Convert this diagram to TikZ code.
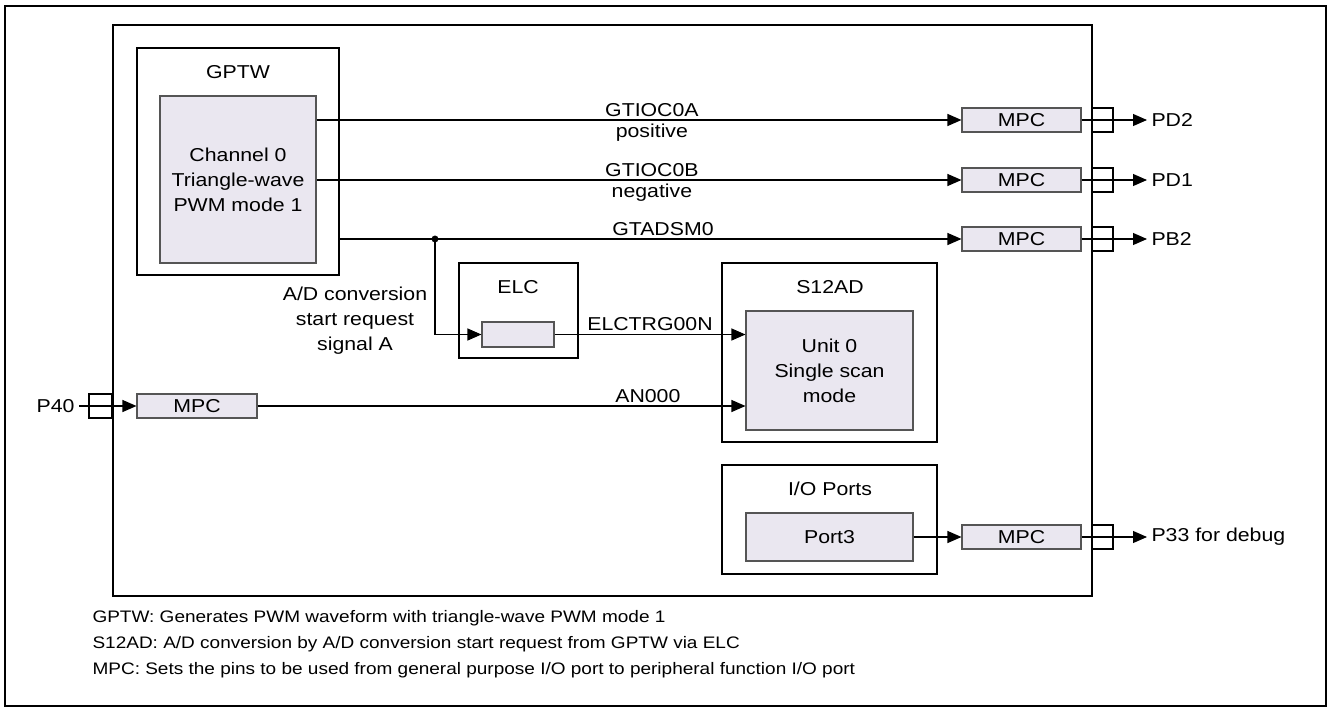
\documentclass[tikz,border=0pt]{standalone}
\usepackage{fontspec}
\setmainfont{Liberation Sans}[FakeStretch=1.14]
\usetikzlibrary{positioning, arrows.meta, fit}

\definecolor{blockfill}{RGB}{234,231,240}
\definecolor{edgegray}{RGB}{85,85,85}

\begin{document}
\begin{tikzpicture}[
    x=0.75pt, y=-0.75pt,    % 座標はピクセル単位
    line width=0.8pt,
    >={Triangle[length=10.5pt, width=9pt]},
    font=\fontsize{14}{18.75}\selectfont,
    % 外側のブロック枠
    blockbox/.style={draw, inner sep=0pt},
    % 内側の塗りつぶしブロック
    corebox/.style={draw=edgegray, fill=blockfill, inner sep=0pt},
    mpcbox/.style={draw=edgegray, fill=blockfill, inner sep=0pt, label=center:MPC},
    pinbox/.style={draw, inner sep=0pt},
    pinlabel/.style={anchor=west, inner sep=3pt},
    notetext/.style={anchor=west, inner sep=0pt, font=\fontsize{12.5}{15}\selectfont},
    sig/.style={->}
]

    % --- 1. 外枠とマイコン ---
    \useasboundingbox (0,0) rectangle (1328,707);
    \node[blockbox, line width=1.5pt, fit={(5,6) (1326,706)}] (frame) {};
    \node[blockbox, fit={(113,25) (1092,596)}] (chip) {};

    % --- 2. 各ブロック ---
    % GPTW
    \node[blockbox, fit={(137,48) (339,275)}] (gptw) {};
    \node (gptwname) at (238,72) {GPTW};
    \node[corebox, fit={(160,96) (316,263)},
          label={[align=center]center:Channel 0\\Triangle-wave\\PWM mode 1}] (ch0) {};

    % ELC
    \node[blockbox, fit={(459,263) (578,358)}] (elc) {};
    \node (elcname) at (518,287) {ELC};
    \node[corebox, fit={(482,322) (554,347)}] (elcin) {};

    % S12AD
    \node[blockbox, fit={(722,263) (937,442)}] (s12ad) {};
    \node (s12adname) at (830,287) {S12AD};
    \node[corebox, fit={(746,311) (913,430)},
          label={[align=center]center:Unit 0\\Single scan\\mode}] (unit0) {};

    % I/O Ports
    \node[blockbox, fit={(722,465) (937,574)}] (ioport) {};
    \node (ioportname) at (830,489) {I/O Ports};
    \node[corebox, fit={(746,513) (913,561)}, label=center:Port3] (port3) {};

    % --- 3. MPC と端子 ---
    \node[mpcbox, fit={(962,108) (1081,132)}] (mpcA) {};
    \node[mpcbox, fit={(962,168) (1081,192)}] (mpcB) {};
    \node[mpcbox, fit={(962,227) (1081,251)}] (mpcC) {};
    \node[mpcbox, fit={(962,525) (1081,549)}] (mpcD) {};
    \node[mpcbox, fit={(137,394) (257,418)}] (mpcP) {};

    \node[pinbox, fit={(1092,108) (1113,132)}] (pinA) {};
    \node[pinbox, fit={(1092,168) (1113,192)}] (pinB) {};
    \node[pinbox, fit={(1092,227) (1113,251)}] (pinC) {};
    \node[pinbox, fit={(1092,525) (1113,549)}] (pinD) {};
    \node[pinbox, fit={(89,394) (112,418)}] (pinP) {};

    \node[pinlabel] (pd2) at (1147,120) {PD2};
    \node[pinlabel] (pd1) at (1147,180) {PD1};
    \node[pinlabel] (pb2) at (1147,239) {PB2};
    \node[pinlabel] (p33) at (1147,537) {P33 for debug};
    \node[anchor=east, inner sep=3pt] (p40) at (79,406) {P40};

    % --- 4. 信号線 ---
    \draw[sig] (mpcA.west -| ch0.east) -- node[pos=0.52, above=-1pt] (gtioca) {GTIOC0A}
        node[pos=0.52, below=-1pt] (posi) {positive} (mpcA.west);
    \draw[sig] (mpcB.west -| ch0.east) -- node[pos=0.52, above=-1pt] (gtiocb) {GTIOC0B}
        node[pos=0.52, below=-1pt] (nega) {negative} (mpcB.west);
    \draw[sig] (mpcC.west -| gptw.east) -- node[pos=0.52, above=-1pt] (gtadsm) {GTADSM0} (mpcC.west);

    % 分岐点から ELC へ
    \coordinate (junc) at (435,239);
    \fill (junc) circle (2.6pt);
    \draw[sig] (junc) |- (elcin.west);
    \node[align=center] (adreq) at (355,321) {A/D conversion\\start request\\signal A};

    \draw[sig] (elcin.east) -- node[pos=0.5, above=-1pt] (elctrg) {ELCTRG00N} (elcin.east -| unit0.west);
    \draw[sig] (mpcP.east) -- node[pos=0.80, above=-1pt] (an000) {AN000} (mpcP.east -| unit0.west);
    \draw[sig] (p40.east) -- (mpcP.west);
    \draw[sig] (port3.east) -- (mpcD.west);

    \draw[sig] (mpcA.east) -- (pd2.west);
    \draw[sig] (mpcB.east) -- (pd1.west);
    \draw[sig] (mpcC.east) -- (pb2.west);
    \draw[sig] (mpcD.east) -- (p33.west);

    % --- 5. 注記 ---
    \node[notetext] (note1) at (92,618) {GPTW: Generates PWM waveform with triangle-wave PWM mode 1};
    \node[notetext] (note2) at (92,644) {S12AD: A/D conversion by A/D conversion start request from GPTW via ELC};
    \node[notetext] (note3) at (92,670) {MPC: Sets the pins to be used from general purpose I/O port to peripheral function I/O port};

\end{tikzpicture}
\end{document}
